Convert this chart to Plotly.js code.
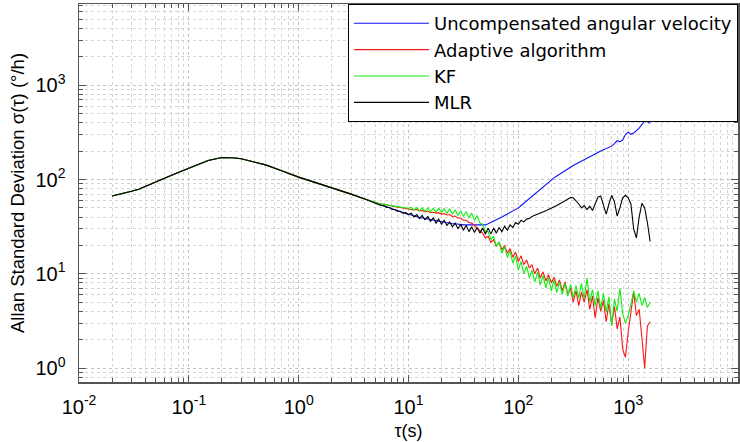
<!DOCTYPE html>
<html>
<head>
<meta charset="utf-8">
<script src="https://cdn.plot.ly/plotly-3.0.1.min.js"></script>
<style>html,body{margin:0;padding:0;background:#fff;}#chart{width:740px;height:442px;}</style>
</head>
<body>
<div id="chart"></div>
<script>
// shared part of the curves (all four series coincide here)
const tauHead = [0.02,0.025,0.03,0.035,0.04,0.05,0.06,0.08,0.1,0.12,0.15,0.2,0.25,0.3,0.4,0.5,0.7,1,1.5,2,3,4];
const sigmaHead = [67,71,75,79,84,94,103,119,132,145,159,171,170,166,154,143,124,106,91,82,70,62];

// tail (tau from 5 s to ~1585 s)
const tauTail = [5.0,5.3,5.6,6.0,6.3,6.7,7.1,7.5,7.9,8.4,8.9,9.4,10,10.6,11.2,11.9,12.6,13.3,14.1,15.0,15.8,16.8,17.8,18.8,20,21.1,22.4,23.7,25.1,26.6,28.2,29.9,31.6,33.5,35.5,37.6,39.8,42.2,44.7,47.3,50.1,53.1,56.2,59.6,63.1,66.8,70.8,75.0,79.4,84.1,89.1,94.4,100,106,112,119,126,133,141,150,158,168,178,188,200,211,224,237,251,266,282,299,316,335,355,376,398,422,447,473,501,531,562,596,631,668,708,750,794,841,891,944,1000,1059,1122,1189,1259,1334,1413,1496,1585];

const uncompTail = [56.5,55,53.5,52,51,50,48.5,47.5,46.5,45.5,44.5,43.5,42.5,
 42,41,40.5,39.5,39,38.5,38,37.5,37,36.5,36,35.5,
 35,35,34.5,34,34,33.5,33.5,33,33,33,32.5,32.5,32.5,32.5,33,33,
 34,35,36,37,38.5,40,41.5,43,44.5,46,48,50,
 53,56,59,62.5,66,70,74,78.5,83,88,93.5,99,104,109,114,119,124,130,136,141,146,151,156,161,167,173,180,187,194,201,208,214,220,226,240,258,252,262,300,318,302,312,330,350,385,418,410,392];

const adaptiveTail = [57,56,55,54.5,53.5,53,52.5,51.5,51,50.5,50,49.5,49,
 48.5,47.5,48,46.5,47,45.5,46,44.5,45,44,44.5,43,
 43.5,42,42.5,40.5,41,39,39,37,37,35,34.5,32.5,31,28.5,27,24,
 25,21.5,23,19.5,21.5,18,20,16.5,18.5,15,17,13.5,15.5,12.5,14,11.5,12.5,10,11.5,9,10.5,8.4,9.8,8.0,9.2,7.4,8.6,6.6,8.2,6.0,7.0,5.0,6.6,4.6,6.4,5.0,6.8,4.2,5.8,3.4,5.6,4.0,5.2,3.1,4.8,2.9,4.5,2.6,3.5,1.6,1.3,2.4,4.0,6.4,3.6,4.2,2.1,1.0,2.8,3.1];

const kfTail = [57,56,55,54.5,53.5,53,52.5,52,51.5,51,50.5,50,49.5,
 50.5,47.5,50.5,46.5,50,46,50,45.5,49.5,45,49.5,45,
 49,44,48.5,43,47.5,41.5,46.5,40.5,45.5,39,44,37,41.5,34.5,33.5,28,
 28,23,25,19.5,22,16.5,19.5,15,17.5,13,15.5,11,13.5,10,12,9,11,8.2,10.4,7.6,9.6,7.1,9.1,6.6,8.6,6.3,8.2,6.0,7.9,5.8,7.7,5.6,7.5,5.5,7.9,5.4,9.0,5.0,6.8,4.6,6.6,4.3,6.2,3.9,5.7,2.8,5.4,4.0,7.0,3.8,3.0,3.6,4.7,6.6,5.0,6.2,4.6,5.6,4.4,5.0];

const mlrTail = [56,55,53,52.5,50.5,50.5,48,48,46,46,44,44.5,42.5,
 44,40,42.5,38.5,41.5,37.5,40.5,36,39,34.5,38,33.5,
 37,32.5,35.5,31.5,34.5,30,33.5,29,32.5,28,31.5,27.5,31,27,30.5,26.5,
 30.5,26.5,30.5,27,31,28,32,29,33,31,35,33.5,37,35.5,38,38.5,40.5,41.5,43,44,45.5,46.5,48,49.5,51.5,53,55,57,59.5,62,64.5,64,60,55,50,53,48,52,47,56,65,67,55,43,55,68,58,41,50,64,68,64,55,30,24,40,56,50,35,22];

const seriesNames = ['Uncompensated angular velocity','Adaptive algorithm','KF','MLR'];
const seriesColors = ['#1010ff','#ff1414','#10ee10','#000000'];
const seriesTails = [uncompTail, adaptiveTail, kfTail, mlrTail];

const xTickVals = [0.01,0.1,1,10,100,1000];
const xTickText = ['10<sup>-2</sup>','10<sup>-1</sup>','10<sup>0</sup>','10<sup>1</sup>','10<sup>2</sup>','10<sup>3</sup>'];
const yTickVals = [1,10,100,1000];
const yTickText = ['10<sup>0</sup>','10<sup>1</sup>','10<sup>2</sup>','10<sup>3</sup>'];

const tauAll = tauHead.concat(tauTail);
const traces = seriesTails.map((tail, k) => ({
  type: 'scatter', mode: 'lines',
  x: tauAll, y: sigmaHead.concat(tail),
  name: seriesNames[k],
  line: {color: seriesColors[k], width: 1.1}
}));

const FONT = '"Liberation Sans", Arial, Helvetica, sans-serif';
const gridCommon = {
  type: 'log', showgrid: true, gridcolor: '#c4c4c4', griddash: 'dot', gridwidth: 1,
  showline: true, linecolor: '#555', linewidth: 1.5, mirror: 'ticks',
  ticks: 'inside', ticklen: 7, tickcolor: '#555', tickwidth: 1,
  zeroline: false,
  tickfont: {family: FONT, size: 20, color: '#000'},
  minor: {dtick: 'D1', ticks: 'inside', ticklen: 4, tickcolor: '#555', showgrid: true, gridcolor: '#d4d4d4', griddash: 'dot', gridwidth: 1}
};

const layout = {
  width: 740, height: 442,
  margin: {l: 79, r: 2, t: 4, b: 60},
  paper_bgcolor: '#fff', plot_bgcolor: '#fff',
  font: {family: FONT},
  showlegend: true,
  legend: {x: 1, xanchor: 'right', y: 1, yanchor: 'top', bgcolor: '#fff', bordercolor: '#000', borderwidth: 1,
           font: {family: '"DejaVu Sans", sans-serif', size: 18, color: '#000'}, itemwidth: 75, tracegroupgap: 0},
  xaxis: Object.assign({}, gridCommon, {range: [-2, 4], tickvals: xTickVals, ticktext: xTickText, ticklabelstandoff: 6,
    title: {text: 'τ(s)', font: {family: FONT, size: 18, color: '#000'}, standoff: 8}}),
  yaxis: Object.assign({}, gridCommon, {range: [-0.148, 3.862], tickvals: yTickVals, ticktext: yTickText, ticklabelstandoff: 8,
    title: {text: 'Allan Standard Deviation σ(τ) (°/h)', font: {family: FONT, size: 18.5, color: '#000'}, standoff: 6}})
};

Plotly.newPlot('chart', traces, layout, {displayModeBar: false, staticPlot: true});
</script>
</body>
</html>
